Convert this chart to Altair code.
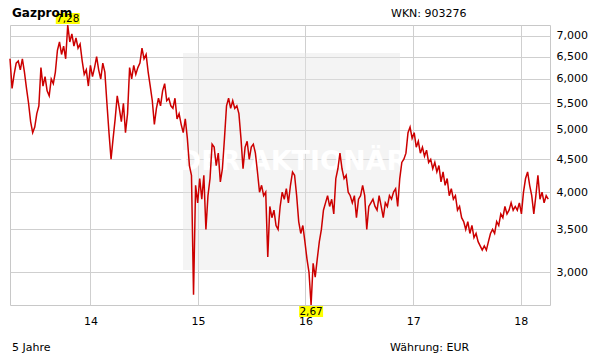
import altair as alt
import pandas as pd

TITLE = "Gazprom"
WKN = "WKN: 903276"
PERIOD = "5 Jahre"
CURRENCY = "Währung: EUR"
WATERMARK = "DER AKTIONÄR"

START = "2013-04-03"
STEP = "7D"
PRICES = [
    6.45, 5.8, 6.1, 6.35, 6.4, 6.2, 6.45, 6.15, 5.8, 5.5,
    5.15, 4.95, 5.05, 5.3, 5.45, 6.25, 5.85, 6.05, 5.75, 5.65,
    6.0, 5.9, 6.15, 6.65, 6.85, 6.55, 6.75, 6.45, 7.28, 6.85,
    7.05, 6.75, 6.95, 6.7, 6.8, 6.4, 6.1, 6.2, 5.85, 6.3,
    6.05, 6.25, 6.5, 6.2, 6.0, 6.35, 6.15, 5.5, 4.95, 4.5,
    4.85, 5.2, 5.65, 5.4, 5.15, 5.5, 4.95, 5.3, 6.25, 6.0,
    6.3, 6.1, 6.25, 6.35, 6.7, 6.45, 6.55, 6.15, 5.85, 5.55,
    5.1, 5.4, 5.6, 5.45, 5.75, 5.9, 5.55, 5.6, 5.45, 5.4,
    5.6, 5.2, 5.3, 5.1, 4.95, 5.2, 4.85, 4.4, 4.25, 2.77,
    4.1, 3.85, 4.2, 3.9, 4.25, 3.5, 3.95, 4.2, 4.75, 4.7,
    4.4, 4.6, 4.15, 4.35, 4.85, 5.45, 5.6, 5.4, 5.55, 5.4,
    5.45, 5.3, 4.85, 4.35, 4.7, 4.8, 4.5, 4.7, 4.75, 4.6,
    4.3, 4.0, 4.1, 3.95, 4.0, 3.17, 3.8, 3.65, 3.75, 3.55,
    3.5, 3.8, 4.0, 3.9, 4.05, 3.85, 4.1, 4.3, 4.25, 3.95,
    3.6, 3.45, 3.55, 3.35, 3.15, 3.0, 2.67, 3.1, 2.95, 3.15,
    3.35, 3.5, 3.75, 3.85, 3.95, 3.8, 3.9, 3.7, 4.2, 4.35,
    4.6, 4.35, 4.2, 4.25, 4.0, 3.95, 3.85, 3.95, 3.65, 3.9,
    3.95, 4.1, 3.95, 3.5, 3.8, 3.85, 3.9, 3.8, 3.75, 3.95,
    3.8, 3.65, 3.85, 3.8, 3.95, 3.9, 4.0, 4.05, 3.8, 4.2,
    4.45, 4.5, 4.6, 4.95, 5.05, 4.85, 4.95, 4.7, 4.8, 4.6,
    4.7, 4.55, 4.65, 4.45, 4.5, 4.35, 4.45, 4.3, 4.4, 4.15,
    4.3, 4.1, 4.2, 3.95, 4.05, 3.9, 3.95, 3.75, 3.8, 3.65,
    3.6, 3.5, 3.6, 3.45, 3.55, 3.4, 3.45, 3.35, 3.3, 3.25,
    3.3, 3.25, 3.35, 3.45, 3.5, 3.45, 3.6, 3.55, 3.7, 3.65,
    3.8, 3.7, 3.75, 3.85, 3.75, 3.8, 3.75, 3.85, 3.7, 4.0,
    4.2, 4.3, 4.1, 3.95, 3.7, 3.95, 4.25, 3.9, 4.0, 3.85,
    3.95, 3.9,
]
YEARS = [2014, 2015, 2016, 2017, 2018]
Y_TICKS = [3.0, 3.5, 4.0, 4.5, 5.0, 5.5, 6.0, 6.5, 7.0]

FONT = "DejaVu Sans"
RED = "#cc0000"
GRID = "#cfcfcf"

df = pd.DataFrame({
    "date": pd.date_range(START, periods=len(PRICES), freq=STEP),
    "price": PRICES,
})

x_scale = alt.Scale(domain=[alt.DateTime(year=2013, month=4, date=3),
                            alt.DateTime(year=2018, month=4, date=10)])
y_scale = alt.Scale(type="log", domain=[min(PRICES), max(PRICES)], nice=False, zero=False)

x_axis = alt.Axis(values=[alt.DateTime(year=y, month=1, date=1) for y in YEARS],
                  format="%y", grid=True, gridColor=GRID, gridWidth=1, gridOpacity=1,
                  ticks=False, domain=False, title=None,
                  labelPadding=10, labelFont=FONT, labelFontSize=11, labelColor="#000")
y_axis = alt.Axis(orient="right", values=Y_TICKS, grid=True, gridColor=GRID, gridWidth=1,
                  gridOpacity=1, ticks=False, domain=False,
                  title=None, labelPadding=6, labelFont=FONT, labelFontSize=11,
                  labelColor="#000",
                  labelExpr="replace(format(datum.value, '.3f'), '.', ',')")

# watermark (semi-transparent so the grid shows through, as in the original)
box = alt.Chart(pd.DataFrame({"k": [0]})).mark_rect(color="#e4e4e4", opacity=0.42).encode(
    x=alt.value(173), x2=alt.value(390), y=alt.value(28), y2=alt.value(245)
)
wm = alt.Chart(pd.DataFrame({"t": [WATERMARK]})).mark_text(
    font="DejaVu Sans", fontWeight="bold", fontSize=27, color="#ffffff",
    align="center", baseline="middle"
).encode(text="t:N", x=alt.value(283), y=alt.value(137))

line = alt.Chart(df).mark_line(color=RED, strokeWidth=1.5).encode(
    x=alt.X("date:T", scale=x_scale, axis=x_axis),
    y=alt.Y("price:Q", scale=y_scale, axis=y_axis),
)

imax = df["price"].idxmax()
imin = df["price"].idxmin()
ext = pd.DataFrame({
    "date": [df.loc[imax, "date"], df.loc[imin, "date"]],
    "price": [df.loc[imax, "price"], df.loc[imin, "price"]],
})
ext["label"] = ext["price"].map(lambda v: f"{v:.2f}".replace(".", ","))
max_df = ext.iloc[[0]]
min_df = ext.iloc[[1]]


def tag(data, y0, y1, ty):
    rect = alt.Chart(data).mark_rect(color="#ffff00", xOffset=-12, x2Offset=12,
                                     yOffset=y0, y2Offset=y1).encode(
        x=alt.X("date:T", scale=x_scale, axis=x_axis), x2="date:T",
        y=alt.Y("price:Q", scale=y_scale, axis=y_axis), y2="price:Q")
    txt = alt.Chart(data).mark_text(font=FONT, fontSize=10.5, color="#000",
                                    baseline="middle", align="center", yOffset=ty).encode(
        x=alt.X("date:T", scale=x_scale, axis=x_axis),
        y=alt.Y("price:Q", scale=y_scale, axis=y_axis), text="label:N")
    return rect + txt


max_tag = tag(max_df, -12, -1, -6.5)
min_tag = tag(min_df, 1, 12, 6.5)


def label(text, x, y, align="left", bold=False, size=11):
    return alt.Chart(pd.DataFrame({"t": [text]})).mark_text(
        font=FONT, fontSize=size, fontWeight="bold" if bold else "normal",
        color="#000", align=align, baseline="middle"
    ).encode(text="t:N", x=alt.value(x), y=alt.value(y))


title = label(TITLE, 2, -12, bold=True, size=12)
wkn = label(WKN, 381, -11)
period = label(PERIOD, 2, 323)
cur = label(CURRENCY, 380, 323)

chart = alt.layer(
    box, wm, line, max_tag, min_tag, title, wkn, period, cur
).properties(
    width=540, height=280,
    padding={"left": 10, "top": 25, "right": 61, "bottom": 59},
    autosize="none",
).configure_view(stroke="#c8c8c8", strokeWidth=1)

chart.save("out.html", embed_options={"renderer": "svg", "actions": False})
